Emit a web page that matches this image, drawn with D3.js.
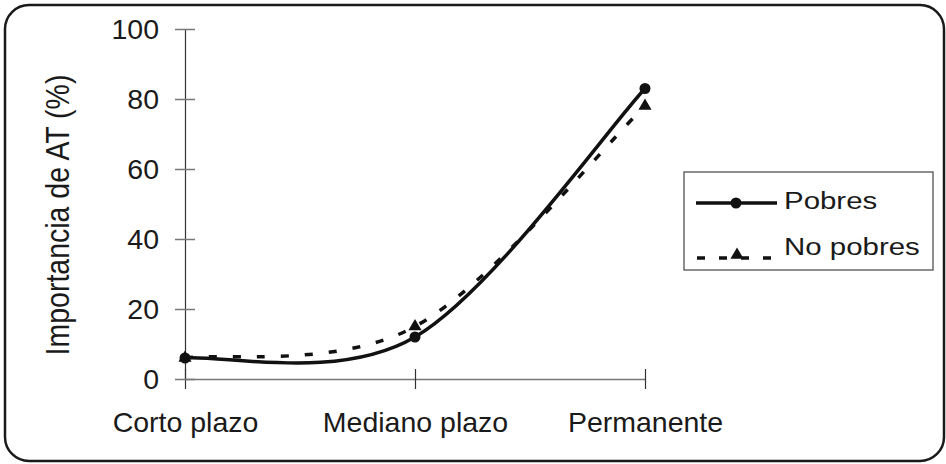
<!DOCTYPE html>
<html>
<head>
<meta charset="utf-8">
<script src="https://cdn.jsdelivr.net/npm/d3@7"></script>
<style>
	body { margin: 0; background: #fff; }
	text { font-family: "Liberation Sans", Arial, sans-serif; fill: #1a1a1a; }
</style>
</head>
<body>
<div id="chart-area"></div>
<script>
// values
const categories = ["Corto plazo", "Mediano plazo", "Permanente"];
const pobres = [6, 12, 83];
const noPobres = [6, 15, 78];
const yTicks = [0, 20, 40, 60, 80, 100];
const seriesNames = ["Pobres", "No pobres"];
const yLabel = "Importancia de AT (%)";

class ImportanciaChart {

	constructor(parentElement){
		this.parentElement = parentElement;
		this.initVis();
	}

	initVis(){
		let vis = this;

		vis.width = 946;
		vis.height = 464;

		vis.svg = d3.select("#" + vis.parentElement).append("svg")
			.attr("width", vis.width)
			.attr("height", vis.height);

		// rounded frame round the whole chart
		vis.svg.append("rect")
			.attr("x", 5)
			.attr("y", 5)
			.attr("width", 939)
			.attr("height", 456)
			.attr("rx", 24)
			.attr("fill", "none")
			.attr("stroke", "#1a1a1a")
			.attr("stroke-width", 2.5);

		// Scales
		vis.x = d3.scalePoint()
			.domain(categories)
			.range([185, 645]);

		vis.y = d3.scaleLinear()
			.domain([0, 100])
			.range([379, 29]);

		// x axis, ticks cross the line
		vis.xAxis = d3.axisBottom(vis.x)
			.tickSize(10)
			.tickSizeOuter(0)
			.tickPadding(23);

		let xg = vis.svg.append("g")
			.attr("transform", "translate(0," + vis.y(0) + ")")
			.call(vis.xAxis);
		xg.select(".domain").attr("stroke", "#777").attr("stroke-width", 1.5);
		xg.selectAll(".tick line").attr("y1", -10).attr("stroke", "#333").attr("stroke-width", 1.2);
		xg.selectAll(".tick text")
			.attr("font-size", 28.5)
			.attr("font-family", "Liberation Sans, Arial, sans-serif")
			.attr("fill", "#1a1a1a");

		// y axis
		vis.yAxis = d3.axisLeft(vis.y)
			.tickValues(yTicks)
			.tickSize(10)
			.tickSizeOuter(0)
			.tickPadding(16);

		let yg = vis.svg.append("g")
			.attr("transform", "translate(" + vis.x(categories[0]) + ",0)")
			.call(vis.yAxis);
		yg.select(".domain").attr("stroke", "#333").attr("stroke-width", 1.2);
		yg.selectAll(".tick line").attr("x1", 10).attr("stroke", "#777").attr("stroke-width", 1.5);
		yg.selectAll(".tick text")
			.attr("font-size", 28.5)
			.attr("font-family", "Liberation Sans, Arial, sans-serif")
			.attr("fill", "#1a1a1a");

		// y axis title
		vis.svg.append("text")
			.attr("transform", "translate(69,215) rotate(-90) scale(1,1.15)")
			.attr("text-anchor", "middle")
			.attr("font-size", 28.5)
			.text(yLabel);

		vis.svg.append("path")
			.attr("d", vis.smoothPath(noPobres))
			.attr("fill", "none")
			.attr("stroke", "#111")
			.attr("stroke-width", 3.5)
			.attr("stroke-dasharray", "8,16");

		vis.svg.append("path")
			.attr("d", vis.smoothPath(pobres))
			.attr("fill", "none")
			.attr("stroke", "#111")
			.attr("stroke-width", 3.5);

		vis.triangle = d3.symbol().type(d3.symbolTriangle).size(75);

		vis.svg.selectAll(".tri")
			.data(noPobres)
			.enter().append("path")
			.attr("class", "tri")
			.attr("transform", (d, i) => "translate(" + vis.x(categories[i]) + "," + vis.y(d) + ")")
			.attr("d", vis.triangle)
			.attr("fill", "#111");

		vis.svg.selectAll(".dot")
			.data(pobres)
			.enter().append("circle")
			.attr("class", "dot")
			.attr("cx", (d, i) => vis.x(categories[i]))
			.attr("cy", d => vis.y(d))
			.attr("r", 5.5)
			.attr("fill", "#111");

		vis.drawLegend();
	}

	// spreadsheet style smoothing: bezier, tangent (next - prev) / 6, end point repeated
	smoothPath(values){
		let vis = this;
		let pts = values.map((d, i) => [vis.x(categories[i]), vis.y(d)]);
		let p = d3.path();
		p.moveTo(pts[0][0], pts[0][1]);
		for(let i = 0; i < pts.length - 1; i++){
			let p0 = pts[Math.max(i - 1, 0)];
			let p1 = pts[i];
			let p2 = pts[i + 1];
			let p3 = pts[Math.min(i + 2, pts.length - 1)];
			p.bezierCurveTo(
				p1[0] + (p2[0] - p0[0]) / 6, p1[1] + (p2[1] - p0[1]) / 6,
				p2[0] - (p3[0] - p1[0]) / 6, p2[1] - (p3[1] - p1[1]) / 6,
				p2[0], p2[1]);
		}
		return p.toString();
	}

	drawLegend(){
		let vis = this;

		let lg = vis.svg.append("g");

		lg.append("rect")
			.attr("x", 684)
			.attr("y", 172)
			.attr("width", 249)
			.attr("height", 98)
			.attr("fill", "#fff")
			.attr("stroke", "#444")
			.attr("stroke-width", 1.2);

		// Pobres
		lg.append("line")
			.attr("x1", 696).attr("x2", 777)
			.attr("y1", 203).attr("y2", 203)
			.attr("stroke", "#111")
			.attr("stroke-width", 3.5);
		lg.append("circle")
			.attr("cx", 736).attr("cy", 203)
			.attr("r", 5.5)
			.attr("fill", "#111");
		lg.append("text")
			.attr("transform", "translate(784,209) scale(1.28,1)")
			.attr("font-size", 23)
			.text(seriesNames[0]);

		// No pobres
		lg.append("line")
			.attr("x1", 697).attr("x2", 778)
			.attr("y1", 258).attr("y2", 258)
			.attr("stroke", "#111")
			.attr("stroke-width", 3.5)
			.attr("stroke-dasharray", "8,14");
		lg.append("path")
			.attr("transform", "translate(737,255)")
			.attr("d", vis.triangle)
			.attr("fill", "#111");
		lg.append("text")
			.attr("transform", "translate(784,255) scale(1.28,1)")
			.attr("font-size", 23)
			.text(seriesNames[1]);
	}
}

new ImportanciaChart("chart-area");
</script>
</body>
</html>
